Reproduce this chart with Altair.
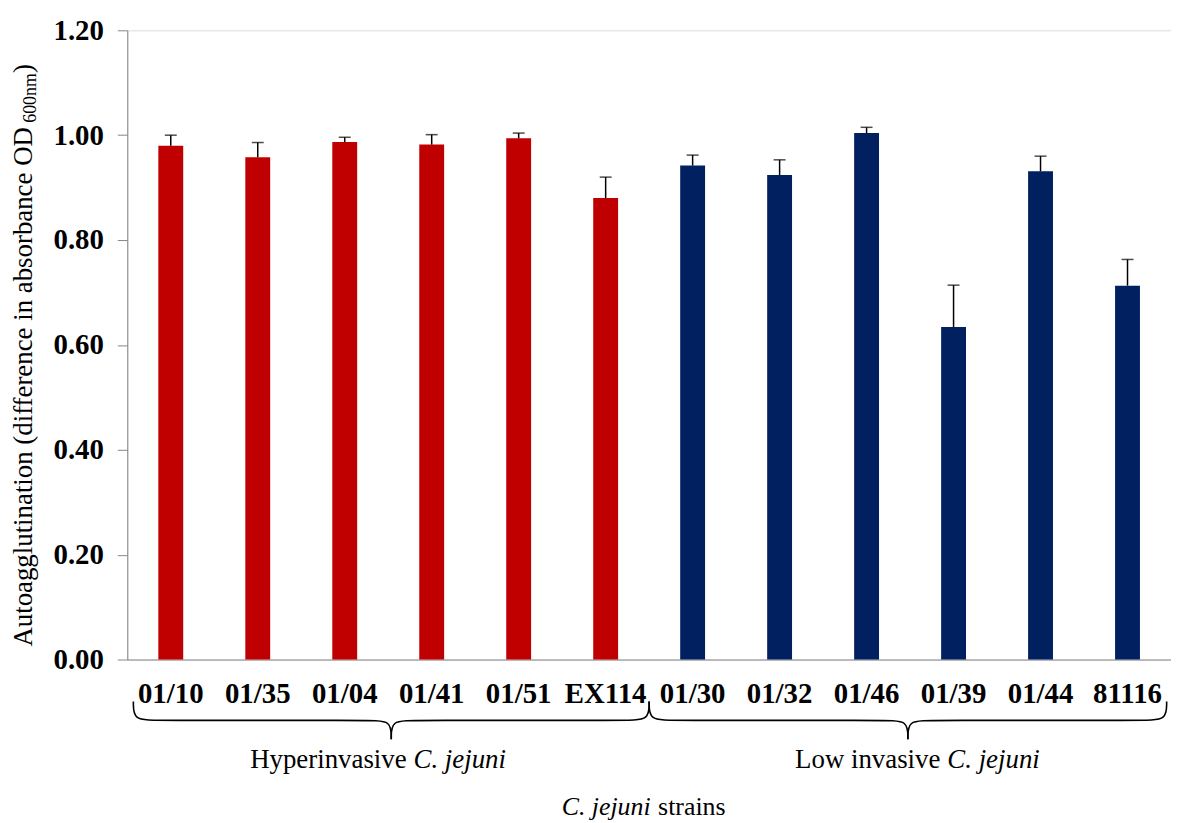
import altair as alt
import pandas as pd

# ---------------- data ----------------
strains = ["01/10", "01/35", "01/04", "01/41", "01/51", "EX114",
           "01/30", "01/32", "01/46", "01/39", "01/44", "81116"]
values = [0.980, 0.958, 0.987, 0.982, 0.994, 0.880,
          0.942, 0.924, 1.004, 0.634, 0.931, 0.713]
errors = [0.020, 0.028, 0.009, 0.019, 0.010, 0.040,
          0.020, 0.029, 0.011, 0.080, 0.029, 0.050]
groups = ["Hyperinvasive"] * 6 + ["Low invasive"] * 6
group_names = ["Hyperinvasive", "Low invasive"]
group_colors = ["#C00000", "#002060"]
# brace span of each group, in category-slot units (slot i is centred on i+0.5)
group_start = [0.07, 6.0]
group_end = [6.0, 11.95]
y_ticks = [0.0, 0.2, 0.4, 0.6, 0.8, 1.0, 1.2]

df = pd.DataFrame({"strain": strains, "value": values, "err": errors, "group": groups})
df["hi"] = df["value"] + df["err"]

# ---------------- brace geometry (below the x axis, in y data units) ----------------
Y_END, Y_FLAT, Y_TIP = -0.080, -0.116, -0.152
HOOK = 0.25
rows = []
for g, a, b in zip(group_names, group_start, group_end):
    m = (a + b) / 2
    left = [(a, Y_END), (a, Y_FLAT), (a + HOOK, Y_FLAT), (m - HOOK, Y_FLAT), (m, Y_FLAT), (m, Y_TIP)]
    right = [(b, Y_END), (b, Y_FLAT), (b - HOOK, Y_FLAT), (m + HOOK, Y_FLAT), (m, Y_FLAT), (m, Y_TIP)]
    for side, pts in (("L", left), ("R", right)):
        for i, (u, yy) in enumerate(pts):
            rows.append({"seg": f"{g}-{side}", "order": i, "u": u, "y": yy})
brace_df = pd.DataFrame(rows)

FONT = "Liberation Serif"
W, H = 1050, 633
N = len(strains)

x_scale = alt.Scale(paddingInner=0.714, paddingOuter=0.357)
x_axis = alt.Axis(title=None, labelAngle=0, labelFont=FONT, labelFontSize=29,
                  labelFontWeight="bold", labelColor="black", ticks=False,
                  domainColor="#868686", domainWidth=1, labelPadding=20)
y_scale = alt.Scale(domain=[0, 1.2], nice=False)
y_axis = alt.Axis(values=y_ticks, format=".2f", title=None, grid=False,
                  labelFont=FONT, labelFontSize=29, labelFontWeight="bold",
                  labelColor="black", tickSize=10, tickColor="#868686",
                  domainColor="#868686", tickWidth=1, domainWidth=1,
                  labelPadding=14)

base = alt.Chart(df)
bars = base.mark_bar(stroke=None).encode(
    x=alt.X("strain:N", sort=strains, scale=x_scale, axis=x_axis),
    y=alt.Y("value:Q", scale=y_scale, axis=y_axis),
    color=alt.Color("group:N", scale=alt.Scale(domain=group_names, range=group_colors), legend=None),
)
err_rule = base.mark_rule(color="black", strokeWidth=1.5).encode(
    x=alt.X("strain:N", sort=strains, scale=x_scale, axis=x_axis),
    y=alt.Y("value:Q", scale=y_scale, axis=y_axis), y2="hi:Q")
err_cap = base.mark_tick(color="black", size=12, thickness=1.5, orient="horizontal").encode(
    x=alt.X("strain:N", sort=strains, scale=x_scale, axis=x_axis),
    y=alt.Y("hi:Q", scale=y_scale, axis=y_axis))

main = alt.layer(bars, err_rule, err_cap)

braces = alt.Chart(brace_df).mark_line(color="black", strokeWidth=1.6, interpolate="basis", clip=False).encode(
    x=alt.X("u:Q", scale=alt.Scale(domain=[0, N], nice=False, zero=False), axis=None),
    y=alt.Y("y:Q", scale=y_scale, axis=y_axis),
    detail="seg:N", order="order:Q")


def label(text, x, y, size=27, style="normal", align="left", angle=0):
    kw = dict(font=FONT, fontSize=size, fontStyle=style, align=align,
              baseline="alphabetic", color="black")
    if angle:
        kw["angle"] = angle
    return alt.Chart(pd.DataFrame({"t": [text]})).mark_text(**kw).encode(
        text="t:N", x=alt.value(x), y=alt.value(y))


texts = [
    label("Autoagglutination (difference in absorbance OD", -96, 620, angle=270),
    label("600nm", -92, 93, size=18, angle=270),
    label(")", -96, 43, angle=270),
    label("Hyperinvasive", 281, 742, align="right"),
    label("C. jejuni", 288, 742, style="italic"),
    label("Low invasive", 818, 742, align="right"),
    label("C. jejuni", 825, 742, style="italic"),
    label("C. jejuni", 437, 789, size=26, style="italic"),
    label("strains", 534, 789, size=26),
]

chart = alt.layer(main, braces, *texts).resolve_scale(
    x="independent"
).properties(
    width=W, height=H,
    autosize=alt.AutoSizeParams(type="none"),
    padding={"left": 120, "top": 20, "right": 0, "bottom": 160},
).configure_view(stroke=None).configure(background="white")

chart.save("out.html", embed_options={"renderer": "svg", "actions": False})
